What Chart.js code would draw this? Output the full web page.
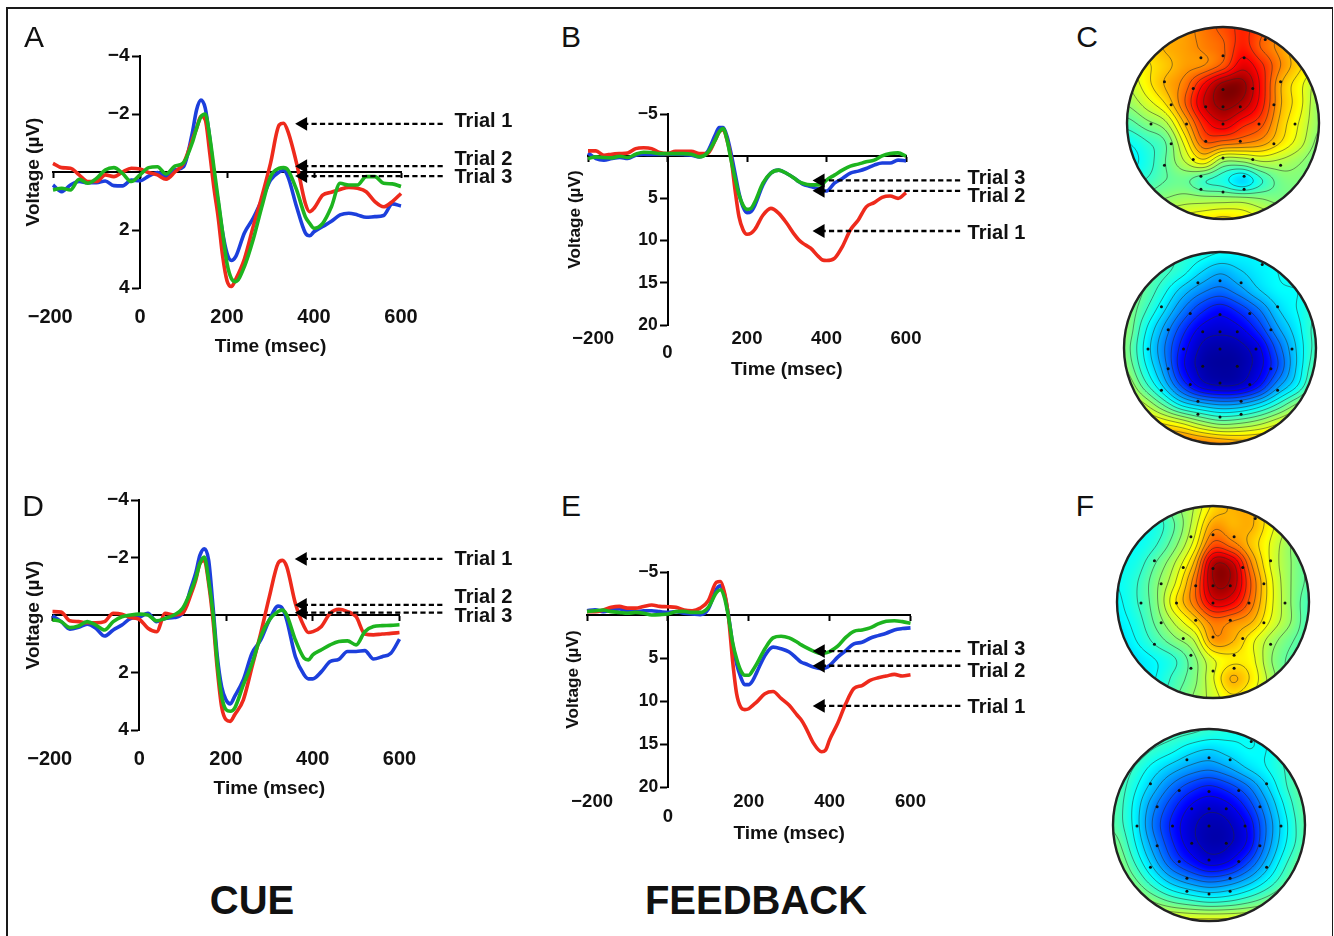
<!DOCTYPE html>
<html><head><meta charset="utf-8">
<script src="https://cdn.jsdelivr.net/npm/chart.js@4"></script>
<style>
html,body{margin:0;padding:0;background:#fff;width:1334px;height:936px;overflow:hidden}
canvas{position:absolute}
.t{position:absolute;font-family:"Liberation Sans",Arial,sans-serif;color:#111;line-height:1;white-space:nowrap;transform:translate(-50%,-50%)}
.f{position:absolute;background:#1a1a1a}
</style></head><body>
<div class="f" style="left:6px;top:7px;width:2px;height:929px"></div>
<div class="f" style="left:6px;top:7px;width:1327px;height:2px"></div>
<div class="f" style="left:1332px;top:7px;width:1px;height:929px"></div>
<script>
const times=[-200,-180,-160,-140,-120,-100,-80,-60,-40,-20,0,20,40,60,80,100,120,130,140,150,160,170,180,190,200,210,220,240,260,280,300,320,330,340,360,380,390,400,420,440,460,480,500,520,540,560,580,600];
const timeTicks=[-200,0,200,400,600];
const cueVoltTicks=[-4,-2,2,4];
const fbVoltTicks=[-5,5,10,15,20];
const trialLabels=['Trial 1','Trial 2','Trial 3'];

const aRed=[-.3,-.15,-.13,.1,.33,.33,.1,.16,0,-.13,-.1,.02,.1,.25,0,-.3,-1.1,-1.5,-1.92,-1.8,-.7,.55,1.6,2.9,3.75,3.95,3.7,3.0,1.9,.85,-.3,-1.62,-1.68,-1.4,-.3,1.08,1.37,1.25,.8,.7,.6,.53,.56,.68,1.02,1.2,1.02,.74];
const aBlue=[.45,.68,.45,.33,.37,.37,.31,.47,.48,.28,.3,.14,.02,.16,-.07,-.18,-1.33,-2.14,-2.48,-2.2,-1.2,.05,1.08,2.1,2.8,3.05,2.92,2.1,1.6,.97,.28,0,-.05,.16,1.2,2.1,2.2,2.06,1.88,1.7,1.48,1.42,1.48,1.56,1.54,1.5,1.1,1.17];
const aGreen=[.62,.56,.62,.25,.39,.22,-.07,-.15,.05,.33,.1,-.15,-.18,.07,-.2,-.32,-1.0,-1.5,-1.9,-2.0,-1.25,-.15,.97,2.1,3.15,3.67,3.78,3.26,2.34,1.2,.16,-.13,-.15,-.07,.62,1.54,1.77,1.94,1.77,1.2,.39,.45,.45,.16,.16,.39,.41,.5];

const dRed=[-.12,-.1,.2,.23,.27,.27,.23,-.06,-.03,.09,.15,.46,.58,-.06,0,-.06,-.75,-1.2,-1.8,-1.9,-1.1,.17,1.9,3.2,3.64,3.7,3.47,2.95,1.8,.64,-.64,-1.8,-1.9,-1.68,-.4,.4,.61,.58,.4,-.06,-.2,-.12,.06,.66,.69,.66,.64,.61];
const dBlue=[.03,.23,.49,.43,.32,.46,.73,.52,.35,.12,.08,-.06,.23,.12,.09,-.06,-.98,-1.45,-2.08,-2.3,-1.9,-.3,1.45,2.5,2.95,3.09,2.83,2.25,1.33,.87,.17,-.31,-.23,.17,1.45,2.08,2.22,2.22,1.97,1.62,1.54,1.27,1.27,1.24,1.53,1.45,1.33,.84];
const dGreen=[.17,.23,.44,.38,.23,.35,.52,.23,.06,0,-.03,0,.2,.12,0,-.23,-.87,-1.27,-1.8,-2.02,-1.21,-.06,1.68,2.83,3.29,3.35,3.24,2.43,1.68,.75,.17,-.12,-.17,0,.87,1.5,1.56,1.39,1.21,1.04,.92,.9,1.04,.58,.4,.37,.36,.34];

const bRed=[-.63,-.63,-.12,-.24,-.31,-.39,-.9,-1,-.9,-.43,-.31,-.59,-.59,-.59,-.31,-.3,-1.9,-2.87,-3.15,-1.9,.28,4,7.2,8.7,9.25,9.13,8.66,7,6.18,6.77,7.95,9.33,9.9,10.3,10.9,11.9,12.3,12.36,12.1,10.7,8.74,7.56,6,5.5,4.88,4.72,5,4.33];
const bBlue=[-.39,.28,.47,.28,.16,.28,-.12,-.24,-.2,-.2,-.24,-.24,-.2,-.12,.08,-.5,-2.5,-3.4,-3.4,-2.3,-.3,2.05,4.4,6,6.7,6.57,5.8,3.4,2,1.65,2.05,2.64,3,3.3,3.6,3.9,4.1,4.13,3.2,2.64,2,1.77,1.46,1.06,.8,.8,.47,.55];
const bGreen=[.28,.08,.16,.2,0,.16,-.24,-.47,-.43,-.31,-.31,-.31,-.31,-.24,.08,-.39,-1.9,-2.87,-3.27,-1.9,.47,2.64,4.6,5.8,6.3,6.18,5.4,3.2,2,1.65,2.05,2.64,3,3.2,3.4,3.4,3.3,2.83,2.24,1.65,1.18,.94,.67,.47,-.04,-.31,-.39,0];

const eRed=[-.39,-.39,-.58,-.89,-1,-.8,-.8,-1,-1.16,-1,-.96,-.89,-.58,-.5,-.8,-1.66,-3.8,-3.9,-2.6,.27,5.3,9.15,10.7,11,10.9,10.5,10.1,9.15,8.9,9.7,10.5,11.66,12.2,13,14.9,15.9,15.7,14.5,12.6,10.3,8.56,8.2,7.6,7.3,7.1,6.9,7.1,6.95];
const eBlue=[-.5,-.6,-.39,-.58,-.7,-.5,-.39,-.5,-.5,-.39,-.3,-.39,-.2,-.12,-.04,-.7,-3,-3.4,-2.43,.08,3.35,5.67,7.2,8.1,8.1,7.6,6.64,4.7,3.74,3.93,4.3,5.1,5.5,5.67,6.06,6.25,6.14,5.87,4.9,4.13,3.35,3.17,2.7,2.4,2.12,1.74,1.58,1.5];
const eGreen=[-.39,-.5,-.58,-.39,-.3,-.2,-.3,-.2,0,-.04,-.12,-.39,-.42,-.3,-.3,-.89,-2.6,-2.93,-2,.27,3.17,5.1,6.44,7,7,6.44,5.67,3.93,2.66,2.47,2.66,3.17,3.47,3.74,4.2,4.5,4.4,4.25,3.63,2.6,1.9,1.74,1.5,1.04,.73,.66,.77,.96];

// arrow levels and label levels in microvolts, Trial 1..3
const aArrowV=[-1.66,-.2,.14], aLabelV=[-1.76,-.48,.17];
const bArrowV=[8.86,4.1,2.87], bLabelV=[9,4.6,2.56];
const dArrowV=[-1.95,-.35,-.08], dLabelV=[-1.98,-.63,.03];
const eArrowV=[10.57,5.9,4.2], eLabelV=[10.65,6.4,3.9];

// scalp maps: normalised potential on an 11x11 lattice, rows top to bottom
const mapCTop=[
[.62,.62,.68,.72,.76,.8,.84,.8,.74,.66,.6],
[.64,.66,.70,.72,.75,.78,.85,.78,.72,.65,.6],
[.6,.64,.68,.72,.74,.8,.9,.84,.74,.66,.6],
[.56,.63,.70,.76,.88,.98,.98,.86,.70,.62,.54],
[.52,.58,.65,.78,.92,.98,.95,.85,.70,.62,.52],
[.45,.50,.55,.70,.85,.91,.85,.80,.68,.60,.52],
[.38,.42,.47,.62,.78,.77,.75,.72,.65,.58,.50],
[.36,.40,.47,.56,.63,.52,.52,.56,.55,.52,.48],
[.40,.43,.47,.48,.43,.40,.34,.42,.49,.50,.48],
[.48,.5,.52,.54,.54,.54,.54,.52,.50,.50,.48],
[.55,.58,.6,.62,.64,.66,.64,.6,.56,.52,.5]];
const mapCBottom=[
[.44,.44,.43,.42,.40,.38,.37,.37,.38,.4,.4],
[.48,.47,.44,.40,.34,.30,.33,.36,.38,.40,.42],
[.52,.47,.40,.32,.26,.23,.27,.33,.37,.38,.40],
[.52,.44,.35,.25,.17,.13,.17,.24,.33,.38,.42],
[.52,.40,.29,.18,.10,.08,.10,.17,.28,.36,.44],
[.50,.38,.26,.14,.06,.04,.05,.10,.22,.34,.44],
[.52,.40,.28,.13,.05,.03,.04,.09,.20,.34,.46],
[.58,.46,.34,.20,.10,.07,.08,.15,.28,.38,.50],
[.66,.58,.48,.38,.33,.30,.31,.36,.44,.53,.60],
[.74,.70,.66,.62,.56,.52,.53,.56,.61,.66,.70],
[.84,.82,.80,.78,.76,.74,.72,.72,.72,.72,.74]];
const mapFTop=[
[.4,.4,.42,.5,.56,.66,.7,.7,.62,.55,.5],
[.38,.38,.4,.47,.58,.72,.7,.70,.62,.55,.48],
[.38,.38,.42,.5,.62,.8,.76,.68,.6,.52,.46],
[.38,.40,.47,.56,.7,.95,.93,.74,.6,.52,.46],
[.38,.42,.5,.6,.76,.96,.95,.78,.62,.52,.46],
[.37,.42,.5,.64,.76,.9,.88,.76,.62,.52,.44],
[.36,.4,.48,.57,.66,.76,.74,.70,.6,.52,.44],
[.34,.38,.44,.5,.56,.72,.7,.62,.54,.48,.44],
[.32,.35,.38,.42,.5,.6,.64,.62,.52,.46,.44],
[.32,.35,.38,.44,.5,.6,.7,.64,.54,.46,.44],
[.34,.36,.4,.46,.52,.58,.64,.6,.54,.46,.44]];
const mapFBottom=[
[.46,.46,.46,.45,.44,.42,.40,.38,.38,.44,.48],
[.48,.47,.43,.40,.36,.34,.36,.38,.38,.44,.48],
[.48,.43,.37,.32,.28,.26,.29,.34,.38,.43,.48],
[.47,.40,.32,.24,.18,.15,.18,.24,.33,.42,.48],
[.46,.38,.27,.18,.11,.08,.10,.17,.28,.39,.47],
[.46,.38,.25,.15,.08,.05,.06,.12,.25,.37,.46],
[.50,.40,.28,.17,.09,.05,.06,.12,.26,.38,.46],
[.54,.44,.33,.22,.15,.10,.12,.2,.31,.42,.50],
[.58,.50,.41,.33,.28,.25,.27,.32,.39,.47,.54],
[.64,.58,.52,.47,.44,.42,.43,.46,.50,.55,.60],
[.72,.68,.65,.63,.62,.62,.62,.62,.62,.63,.64]];
const electrodeX=[.44,-.23,0,.22,-.61,-.31,0,.31,.6,-.54,-.18,0,.18,.53,-.75,-.38,0,.375,.75,-.54,-.18,.18,.53,-.31,0,.31,-.61,.6,-.23,.22,-.23,0,.22];
const electrodeY=[-.87,-.68,-.70,-.68,-.43,-.36,-.35,-.36,-.43,-.19,-.17,-.17,-.17,-.19,.01,.01,.01,.01,.01,.215,.19,.19,.215,.38,.365,.38,.44,.44,.555,.555,.69,.72,.69];

const FONT='"Liberation Sans",Arial,sans-serif';
const INK='#111';
const COL={red:'#ee2a1c',blue:'#1c3fdc',green:'#1db41f'};
const fmt=v=>v<0?'\u2212'+Math.abs(v):String(v);

function addText(str,x,y,size,weight){
  const d=document.createElement('div');d.className='t';d.textContent=str;
  d.style.left=x+'px';d.style.top=y+'px';d.style.fontSize=size+'px';d.style.fontWeight=weight;
  document.body.appendChild(d);
}
function addCanvas(x,y,w,h){
  const c=document.createElement('canvas');c.width=w;c.height=h;
  c.style.left=x+'px';c.style.top=y+'px';c.style.width=w+'px';c.style.height=h+'px';
  document.body.appendChild(c);return c;
}

function panel(p){
  const cx=Math.round(p.titleX-p.voltSize*.6), cy=p.top-15, cw=p.canvasRight-cx, ch=(p.bottom-p.top)+15+90;
  const c=addCanvas(cx,cy,cw,ch);
  const series=[[p.red,COL.red,'Trial 1',3],[p.blue,COL.blue,'Trial 2',5],[p.green,COL.green,'Trial 3',2]];
  const ds=series.map(s=>({label:s[2],data:times.map((t,i)=>({x:t,y:s[0][i]})),borderColor:s[1],borderWidth:3.6,pointRadius:0,cubicInterpolationMode:'monotone',order:s[3],clip:false}));
  p.arrowV.forEach((v,i)=>ds.push({label:trialLabels[i]+' arrow',data:[{x:p.arrowT[0],y:v},{x:p.arrowT[1],y:v}],borderColor:'#000',borderWidth:2.3,borderDash:[5.2,3.2],
    pointStyle:'triangle',pointRotation:-90,pointRadius:[8,0],pointBackgroundColor:'#000',pointBorderWidth:0,order:1,clip:false}));
  const tickFont={family:FONT,size:p.xTickSize,weight:'bold',lineHeight:p.lineHeight};
  const notes={id:'notes',afterDraw(chart){
    const ctx=chart.ctx,x=chart.scales.x,y=chart.scales.y;ctx.save();ctx.fillStyle=INK;
    ctx.font='bold 20px '+FONT;ctx.textBaseline='middle';ctx.textAlign='left';
    p.labelV.forEach((v,i)=>ctx.fillText(trialLabels[i],x.getPixelForValue(p.labelT),y.getPixelForValue(v)+1));
    ctx.font='bold 19.2px '+FONT;
    ctx.textAlign='center';ctx.fillText('Time (msec)',x.getPixelForValue(300),p.timeY-cy+2);
    ctx.restore();
  }};
  new Chart(c,{type:'line',data:{datasets:ds},plugins:[notes],options:{
    responsive:false,animation:false,devicePixelRatio:1,
    layout:{padding:{left:0,top:15,right:p.canvasRight-p.right,bottom:0}},
    plugins:{legend:{display:false},tooltip:{enabled:false},title:{display:false}},
    scales:{
      x:{type:'linear',position:'bottom',min:-200,max:600,
        afterFit:s=>{s.height=90;s.paddingLeft=0;s.paddingRight=0;},
        afterBuildTicks:s=>{s.ticks=timeTicks.map(value=>({value}));},
        grid:{display:false,drawTicks:false},border:{display:false},
        ticks:{color:INK,font:tickFont,padding:p.tickPad,maxRotation:0,autoSkip:false,
          callback:v=>(p.lowZero&&v===0)?['','0']:(v===-200?p.firstLabelPad[0]+fmt(v)+p.firstLabelPad[1]:fmt(v))}},
      y:{type:'linear',position:'left',reverse:true,min:p.vMin,max:p.vMax,
        afterFit:s=>{s.width=p.left-cx;},
        grid:{display:false,drawTicks:false},border:{display:false},ticks:{display:false},
        title:{display:true,text:'Voltage (\u00B5V)',color:INK,font:{family:FONT,size:p.voltSize,weight:'bold',lineHeight:1.2},padding:0}},
      xLine:{type:'linear',axis:'x',position:{y:0},min:-200,max:600,
        afterBuildTicks:s=>{s.ticks=timeTicks.map(value=>({value}));},
        grid:{drawOnChartArea:false,drawTicks:true,tickLength:5,tickWidth:2,tickColor:'#000'},
        border:{color:'#000',width:2},ticks:{display:false}},
      yLine:{type:'linear',axis:'y',position:{x:0},reverse:true,min:p.vMin,max:p.vMax,
        afterBuildTicks:s=>{s.ticks=p.yTicks.map(value=>({value}));},
        grid:{drawOnChartArea:false,drawTicks:true,tickLength:7,tickWidth:2,tickColor:'#000'},
        border:{color:'#000',width:2},
        ticks:{color:INK,font:{family:FONT,size:p.yTickSize,weight:'bold'},padding:1,autoSkip:false,callback:v=>fmt(v)+'\u00A0\u00A0'}}
    }}});
}

function jet(v){
  const cl=a=>Math.max(0,Math.min(1,a))*255;
  return [cl(1.5-Math.abs(4*v-3)),cl(1.5-Math.abs(4*v-2)),cl(1.5-Math.abs(4*v-1))];
}
function cr(a,b,c,d,t){return b+.5*t*(c-a+t*(2*a-5*b+4*c-d+t*(3*(b-c)+d-a)));}
function sample(g,u,w){ // u,w lattice coords
  const n=g.length-1,i=Math.min(n-1,Math.max(0,Math.floor(u))),j=Math.min(n-1,Math.max(0,Math.floor(w)));
  const at=(a,b)=>g[Math.max(0,Math.min(n,b))][Math.max(0,Math.min(n,a))];
  const tu=u-i,tw=w-j,r=[];
  for(let b=-1;b<=2;b++) r.push(cr(at(i-1,j+b),at(i,j+b),at(i+1,j+b),at(i+2,j+b),tu));
  return cr(r[0],r[1],r[2],r[3],tw);
}
function topo(g,cxp,cyp,r){
  const pad=4,size=2*r+2*pad;
  const c=addCanvas(cxp-r-pad,cyp-r-pad,size,size);
  const field={id:'field',beforeDatasetsDraw(chart){
    const ctx=chart.ctx,{x:xs,y:ys}=chart.scales,a=chart.chartArea;
    const W=Math.round(a.right-a.left),H=Math.round(a.bottom-a.top);
    const off=document.createElement('canvas');off.width=W;off.height=H;
    const oc=off.getContext('2d'),img=oc.createImageData(W,H),F=new Float32Array((W+1)*(H+1));
    const n=g.length-1;
    for(let j=0;j<=H;j++){const gy=ys.getValueForPixel(a.top+j);
      for(let i=0;i<=W;i++){const gx=xs.getValueForPixel(a.left+i);
        F[j*(W+1)+i]=sample(g,(gx+1)/2*n,(gy+1)/2*n);}}
    for(let j=0;j<H;j++)for(let i=0;i<W;i++){
      const rgb=jet(F[j*(W+1)+i]),k=4*(j*W+i);
      img.data[k]=rgb[0];img.data[k+1]=rgb[1];img.data[k+2]=rgb[2];img.data[k+3]=255;}
    oc.putImageData(img,0,0);
    const mx=xs.getPixelForValue(0),my=ys.getPixelForValue(0),rad=xs.getPixelForValue(1)-mx;
    ctx.save();ctx.beginPath();ctx.arc(mx,my,rad,0,Math.PI*2);ctx.clip();
    ctx.drawImage(off,a.left,a.top);
    ctx.strokeStyle='rgba(40,40,40,.5)';ctx.lineWidth=1;ctx.beginPath();
    const st=2;
    for(let L=.065;L<1;L+=.045){
      for(let j=0;j+st<=H;j+=st)for(let i=0;i+st<=W;i+=st){
        const v=[F[j*(W+1)+i],F[j*(W+1)+i+st],F[(j+st)*(W+1)+i+st],F[(j+st)*(W+1)+i]];
        const pts=[];
        const e=(p,q,x0,y0,x1,y1)=>{if((p<L)!==(q<L)){const t=(L-p)/(q-p);pts.push([a.left+x0+(x1-x0)*t,a.top+y0+(y1-y0)*t]);}};
        e(v[0],v[1],i,j,i+st,j);e(v[1],v[2],i+st,j,i+st,j+st);e(v[2],v[3],i+st,j+st,i,j+st);e(v[3],v[0],i,j+st,i,j);
        for(let q=0;q+1<pts.length;q+=2){ctx.moveTo(pts[q][0],pts[q][1]);ctx.lineTo(pts[q+1][0],pts[q+1][1]);}
      }
    }
    ctx.stroke();ctx.restore();
    ctx.save();ctx.strokeStyle='#222';ctx.lineWidth=2.4;ctx.beginPath();ctx.arc(mx,my,rad,0,Math.PI*2);ctx.stroke();ctx.restore();
  }};
  new Chart(c,{type:'scatter',data:{datasets:[{label:'Electrodes',data:electrodeX.map((x,i)=>({x,y:electrodeY[i]})),pointRadius:1.5,pointBackgroundColor:'#111',pointBorderWidth:0,clip:false}]},
    plugins:[field],options:{responsive:false,animation:false,devicePixelRatio:1,layout:{padding:pad},
    plugins:{legend:{display:false},tooltip:{enabled:false}},
    scales:{x:{type:'linear',min:-1,max:1,display:false},y:{type:'linear',reverse:true,min:-1,max:1,display:false}}}});
}

panel({red:aRed,blue:aBlue,green:aGreen,arrowV:aArrowV,labelV:aLabelV,arrowT:[375,697],labelT:723,firstLabelPad:['','\u00A0'],xTickSize:20,yTickSize:19,voltSize:19,
  titleX:33,left:53,right:401,top:56,bottom:288,canvasRight:530,vMin:-4,vMax:4,yTicks:cueVoltTicks,tickPad:17,lineHeight:1.2,timeY:345});
panel({red:dRed,blue:dBlue,green:dGreen,arrowV:dArrowV,labelV:dLabelV,arrowT:[377,701],labelT:727,firstLabelPad:['','\u00A0'],xTickSize:20,yTickSize:19,voltSize:19,
  titleX:33,left:52.5,right:399.5,top:500,bottom:730,canvasRight:530,vMin:-4,vMax:4,yTicks:cueVoltTicks,tickPad:17,lineHeight:1.2,timeY:787});
panel({red:bRed,blue:bBlue,green:bGreen,arrowV:bArrowV,labelV:bLabelV,arrowT:[385,740],labelT:755,firstLabelPad:['\u00A0\u00A0',''],xTickSize:18.5,yTickSize:17.5,voltSize:17.2,
  titleX:575,left:588,right:906,top:114,bottom:325,canvasRight:1040,vMin:-5,vMax:20,yTicks:fbVoltTicks,tickPad:7,lineHeight:'14px',lowZero:true,timeY:368});
panel({red:eRed,blue:eBlue,green:eGreen,arrowV:eArrowV,labelV:eLabelV,arrowT:[378,726],labelT:741,firstLabelPad:['\u00A0\u00A0',''],xTickSize:18.5,yTickSize:17.5,voltSize:17.2,
  titleX:573,left:587,right:910.5,top:572,bottom:787,canvasRight:1040,vMin:-5,vMax:20,yTicks:fbVoltTicks,tickPad:7,lineHeight:'15px',lowZero:true,timeY:832});

topo(mapCTop,1223,123,96);
topo(mapCBottom,1219.5,347.5,96);
topo(mapFTop,1212.5,602,96);
topo(mapFBottom,1208.5,824.5,96);

[['A',34,37],['B',571,37],['C',1087,37],['D',33,506],['E',571,506],['F',1085,506]].forEach(a=>addText(a[0],a[1],a[2],30,'normal'));
addText('CUE',252,900,40,'bold');
addText('FEEDBACK',756,900,40,'bold');
</script>
</body></html>
